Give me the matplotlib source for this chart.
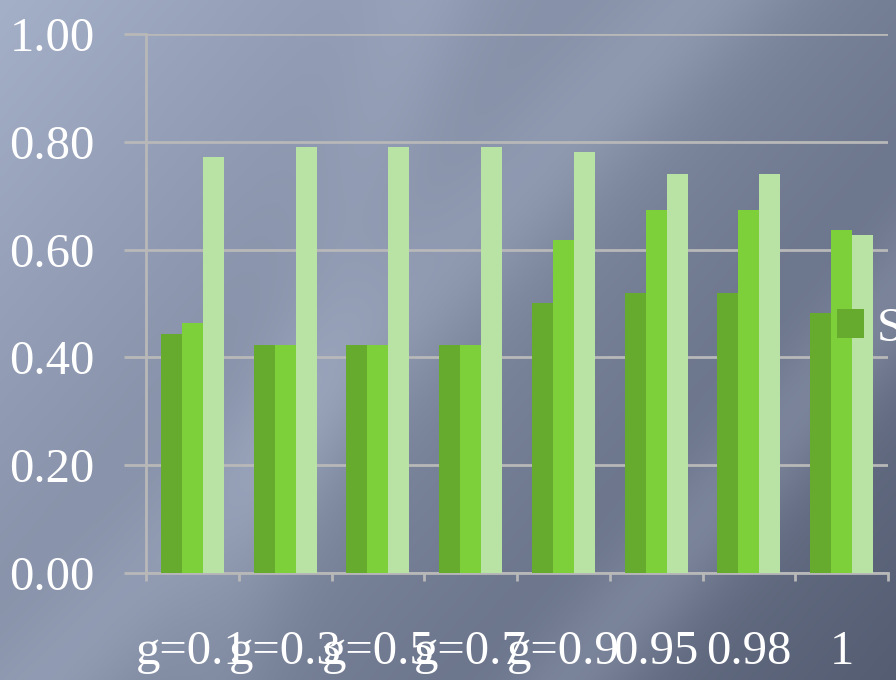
import numpy as np
import matplotlib
matplotlib.use("Agg")
import matplotlib.pyplot as plt
from matplotlib.patches import Patch
from matplotlib.transforms import ScaledTranslation

categories = ["g=0.1", "g=0.3", "g=0.5", "g=0.7", "g=0.9", "0.95", "0.98", "1"]
series1 = [0.443, 0.423, 0.423, 0.423, 0.501, 0.519, 0.519, 0.482]
series2 = [0.463, 0.423, 0.423, 0.423, 0.618, 0.673, 0.673, 0.636]
series3 = [0.771, 0.790, 0.790, 0.790, 0.781, 0.740, 0.740, 0.627]
series_names = ["Series1", "Series2", "Series3"]
yticks = [0.0, 0.2, 0.4, 0.6, 0.8, 1.0]
ytick_labels = ["0.00", "0.20", "0.40", "0.60", "0.80", "1.00"]

colors = ["#66AA2E", "#7DD03A", "#B9E3A5"]
grid_c = "#B8B8B8"
FS = 35
FONT = ["Liberation Serif", "DejaVu Serif"]

fig = plt.figure(figsize=(8.96, 6.8), dpi=100)

# background gradient
W, H = 896, 680
xx, yy = np.meshgrid(np.linspace(0, 1, W), np.linspace(0, 1, H))
t = (xx * 0.6 + yy * 0.4)
light = np.array([164, 175, 200]) / 255.0
dark = np.array([84, 93, 114]) / 255.0
base = light[None, None, :] * (1 - t[..., None]) + dark[None, None, :] * t[..., None]
band1 = np.exp(-((xx * W - (700 - yy * H * 0.95)) / 90.0) ** 2) * 0.06
band2 = np.exp(-((xx * W - (1150 - yy * H * 0.85)) / 70.0) ** 2) * 0.08
band3 = np.exp(-((xx * W - (420 - yy * H * 0.3)) / 60.0) ** 2) * 0.035
img = np.clip(base + (band1 + band2 + band3)[..., None], 0, 1)
bg = fig.add_axes([0, 0, 1, 1], zorder=-10)
bg.imshow(img, aspect="auto", extent=[0, 1, 0, 1], origin="upper")
bg.axis("off")

ax = fig.add_axes([146 / 896, (680 - 573) / 680, (888 - 146) / 896, (573 - 34) / 680])
ax.set_facecolor("none")

x = np.arange(len(categories))
bw = 0.227
for i, (vals, c, n) in enumerate(zip([series1, series2, series3], colors, series_names)):
    ax.bar(x + (i - 1) * bw, vals, width=bw, color=c, label=n, zorder=3, linewidth=0)

ax.set_xlim(-0.5, len(categories) - 0.5)
ax.set_ylim(0, 1.0)
ax.set_yticks(yticks)
ax.set_yticklabels(ytick_labels)
ax.set_xticks(x)
ax.set_xticklabels(categories)
ax.set_xticks(np.arange(len(categories) + 1) - 0.5, minor=True)

up = ScaledTranslation(0, 3 / 100, fig.dpi_scale_trans)
for lab in ax.get_yticklabels():
    lab.set_transform(lab.get_transform() + up)
for lab in ax.get_yticklabels() + ax.get_xticklabels():
    lab.set_fontfamily(FONT)
    lab.set_fontsize(FS)
    lab.set_color("white")

ax.yaxis.grid(True, color=grid_c, linewidth=2, zorder=0)
ax.set_axisbelow(True)
ax.tick_params(axis="y", length=16, width=2, color=grid_c, pad=21)
ax.tick_params(axis="x", which="major", length=0, pad=41)
ax.tick_params(axis="x", which="minor", length=6, width=2, color=grid_c)
for s in ["top", "right"]:
    ax.spines[s].set_visible(False)
ax.spines["left"].set_color(grid_c)
ax.spines["left"].set_linewidth(2)
ax.spines["bottom"].set_color(grid_c)
ax.spines["bottom"].set_linewidth(2)

leg = ax.legend(handles=[Patch(facecolor=colors[0], linewidth=0)], labels=[series_names[0]],
                loc="center left", bbox_to_anchor=(837 / 896, (680 - 329) / 680),
                bbox_transform=fig.transFigure, frameon=False, borderpad=0, borderaxespad=0,
                handlelength=0.55, handleheight=0.55, handletextpad=0.27,
                prop={"family": FONT, "size": FS})
for txt in leg.get_texts():
    txt.set_color("white")

fig.savefig("out.png", dpi=100)
